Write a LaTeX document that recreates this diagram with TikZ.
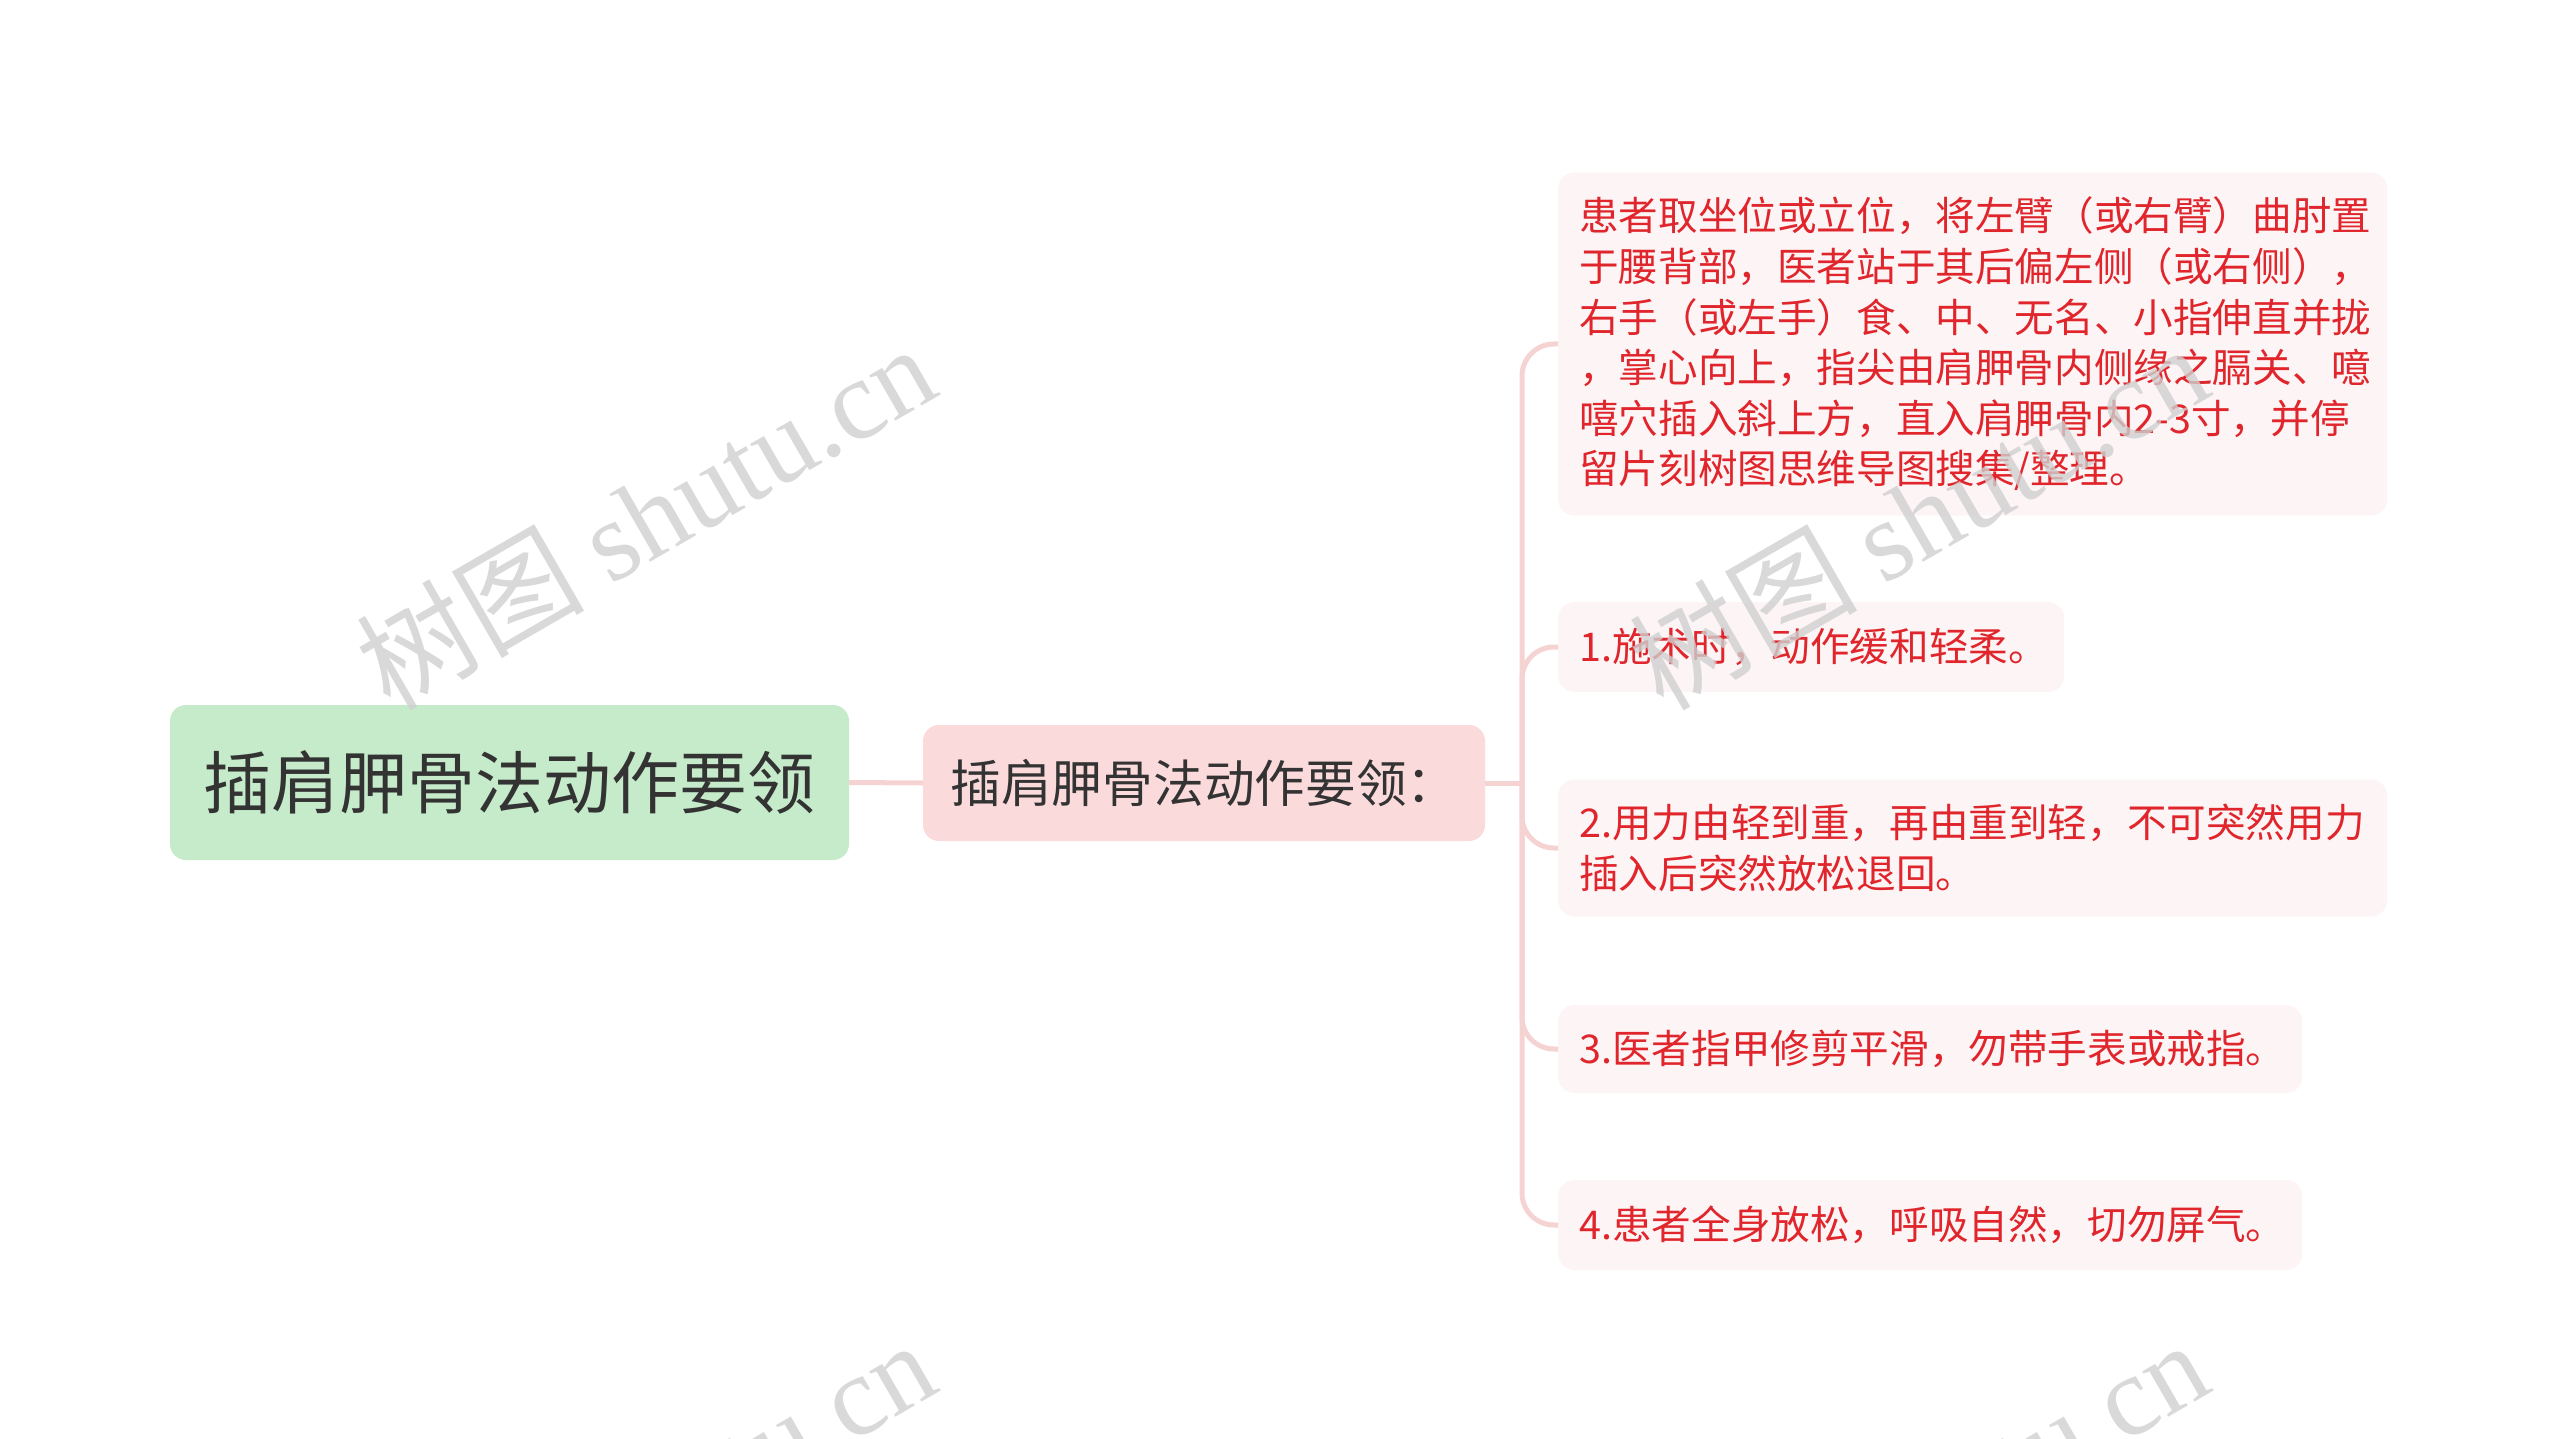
\documentclass[tikz,border=0pt]{standalone}
\usepackage{fontspec}
\setmainfont{Noto Sans CJK SC}
\newfontfamily\wmserif{Liberation Serif}
\definecolor{rootfill}{HTML}{C6EBCA}
\definecolor{midfill}{HTML}{FADADB}
\definecolor{leaffill}{HTML}{FDF5F5}
\definecolor{darktext}{HTML}{333333}
\definecolor{redtext}{HTML}{E0262C}
\definecolor{linkcol}{HTML}{F6D3D3}
\definecolor{wmcol}{HTML}{CFCFCF}
\begin{document}
\begin{tikzpicture}[x=1pt,y=-1pt,
  box/.style={rounded corners=16pt, inner ysep=0pt},
  rootbox/.style={box, fill=rootfill, text=darktext, inner xsep=0pt, align=center,
    minimum width=679pt, minimum height=155pt, font=\fontsize{68}{80}\selectfont},
  midbox/.style={box, fill=midfill, text=darktext, inner xsep=0pt, align=center,
    minimum width=562pt, minimum height=116pt, font=\fontsize{50.7}{60}\selectfont},
  leafbox/.style={box, fill=leaffill, text=redtext, inner xsep=21pt, align=left,
    anchor=west, font=\fontsize{39.6}{50.6}\selectfont},
  link/.style={draw=linkcol, line width=5pt},
  wmark/.style={text=wmcol, opacity=0.8, rotate=30, font=\fontsize{114}{120}\selectfont},
]
\useasboundingbox (0,0) rectangle (2560,1439);

\node[rootbox] (root) at (509.5,782.5) {插肩胛骨法动作要领};
\node[midbox] (mid) at (1204,783) {插肩胛骨法动作要领：};

\node[leafbox, text width=787pt, minimum height=343pt] (c0) at (1558,344)
  {\rule{0pt}{3pt}患者取坐位或立位，将左臂（或右臂）曲肘置\\
   于腰背部，医者站于其后偏左侧（或右侧），\\
   右手（或左手）食、中、无名、小指伸直并拢\\
   ，掌心向上，指尖由肩胛骨内侧缘之膈关、噫\\
   嘻穴插入斜上方，直入肩胛骨内2-3寸，并停\\
   留片刻树图思维导图搜集/整理。};
\node[leafbox, text width=464pt, minimum height=90pt] (c1) at (1558,647)
  {1.施术时，动作缓和轻柔。};
\node[leafbox, text width=787pt, minimum height=137pt] (c2) at (1558,848)
  {2.用力由轻到重，再由重到轻，不可突然用力\\
   插入后突然放松退回。};
\node[leafbox, text width=702pt, minimum height=88pt] (c3) at (1558,1049)
  {3.医者指甲修剪平滑，勿带手表或戒指。};
\node[leafbox, text width=702pt, minimum height=90pt] (c4) at (1558,1225)
  {4.患者全身放松，呼吸自然，切勿屏气。};

\draw[link] (root.east) -- (mid.west);
\coordinate (j) at (1522,783);
\draw[link] (mid.east) -- (j);
\foreach \c in {c0,c1,c2,c3,c4}
  \draw[link, rounded corners=32pt] (j) |- (\c.west);

\begin{scope}
  \clip (0,0) rectangle (2560,1439);
  \node[wmark] (wm1) at (645,516) {树图 {\wmserif shutu.cn}};
  \node[wmark] (wm2) at (1918,516) {树图 {\wmserif shutu.cn}};
  \node[wmark] (wm3) at (645,1512) {树图 {\wmserif shutu.cn}};
  \node[wmark] (wm4) at (1918,1512) {树图 {\wmserif shutu.cn}};
\end{scope}
\end{tikzpicture}
\end{document}
